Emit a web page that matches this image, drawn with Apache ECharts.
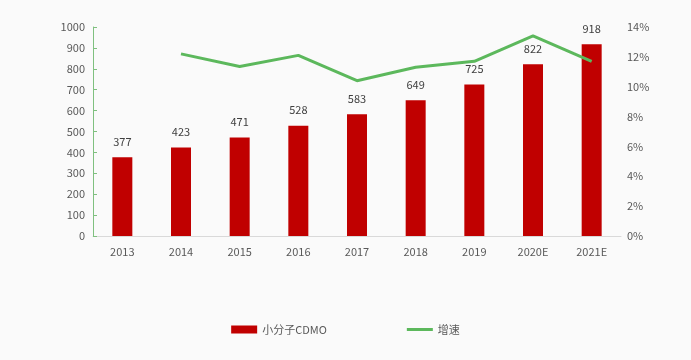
<!DOCTYPE html>
<html><head><meta charset="utf-8">
<script src="https://cdn.jsdelivr.net/npm/echarts@6/dist/echarts.min.js"></script>
<style>html,body{margin:0;padding:0;background:#fafafa;}#c{width:691px;height:360px;}</style>
</head><body><div id="c"></div>
<script>
var categories = ['2013','2014','2015','2016','2017','2018','2019','2020E','2021E'];
var cdmoValues = [377,423,471,528,583,649,725,822,918];
var growthValues = [null,12.2,11.35,12.1,10.4,11.3,11.7,13.4,11.7];
var leftTicks = ['0','100','200','300','400','500','600','700','800','900','1000'];
var rightTicks = ['0%','2%','4%','6%','8%','10%','12%','14%'];

var chart = echarts.init(document.getElementById('c'));
var font = 'Microsoft YaHei, "Noto Sans CJK SC", "Liberation Sans", sans-serif';
chart.setOption({
  backgroundColor: '#fafafa',
  textStyle: {fontFamily: font},
  grid: {left: 93, right: 70, top: 27, bottom: 124, containLabel: false},
  legend: {
    bottom: 20, left: 'center', itemGap: 80, itemWidth: 26, itemHeight: 8,
    textStyle: {color: '#595959', fontSize: 11, fontFamily: font},
    data: [{name: '小分子CDMO', icon: 'rect'}, {name: '增速', icon: 'path://M0,0 L26,0 L26,3 L0,3 Z'}]
  },
  xAxis: {
    type: 'category', data: categories,
    axisLine: {lineStyle: {color: '#d9d9d9'}},
    axisTick: {show: false},
    axisLabel: {color: '#595959', fontSize: 11, margin: 10}
  },
  yAxis: [{
    type: 'value', min: 0, max: 1000, interval: 100,
    axisLine: {show: true, lineStyle: {color: '#7fc07f'}},
    axisTick: {show: true, inside: true, length: 4, lineStyle: {color: '#7fc07f'}},
    splitLine: {show: false},
    axisLabel: {color: '#595959', fontSize: 11, margin: 8, formatter: function(v){return leftTicks[Math.round(v/100)];}}
  }, {
    type: 'value', min: 0, max: 14, interval: 2,
    axisLine: {show: false}, axisTick: {show: false}, splitLine: {show: false},
    axisLabel: {color: '#595959', fontSize: 11, margin: 6, formatter: function(v){return rightTicks[Math.round(v/2)];}}
  }],
  series: [{
    name: '小分子CDMO', type: 'bar', data: cdmoValues, barWidth: 20,
    itemStyle: {color: '#c00000'},
    label: {show: true, position: 'top', distance: 10, color: '#404040', fontSize: 11}
  }, {
    name: '增速', type: 'line', yAxisIndex: 1, data: growthValues,
    symbol: 'none', lineStyle: {color: '#5cb85c', width: 3}, itemStyle: {color: '#5cb85c'},
    connectNulls: false
  }]
});
</script></body></html>
